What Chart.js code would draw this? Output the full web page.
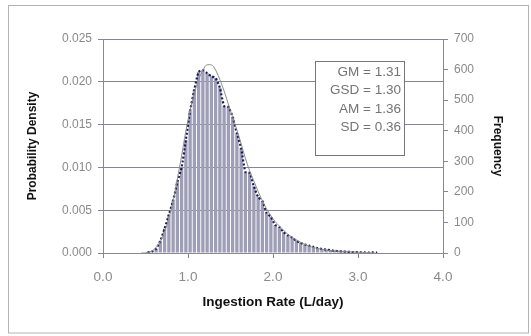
<!DOCTYPE html>
<html>
<head>
<meta charset="utf-8">
<script src="https://cdn.jsdelivr.net/npm/chart.js@4.4.1/dist/chart.umd.min.js"></script>
<style>
  html, body { margin: 0; padding: 0; background: #fff; }
  #wrap { width: 531px; height: 336px; position: relative; }
</style>
</head>
<body>
<div id="wrap"><canvas id="hist"></canvas></div>
<script>
// ─── DATA ─────────────────────────────────────────────────────────────────────
// histogram bins (centre, L/day) and counts per bin
const binCenters = [0.525,0.575,0.625,0.675,0.725,0.775,0.825,0.875,0.925,0.975,
  1.025,1.075,1.125,1.175,1.225,1.275,1.325,1.375,1.425,1.475,
  1.525,1.575,1.625,1.675,1.725,1.775,1.825,1.875,1.925,1.975,
  2.025,2.075,2.125,2.175,2.225,2.275,2.325,2.375,2.425,2.475,
  2.525,2.575,2.625,2.675,2.725,2.775,2.825,2.875,2.925,2.975,
  3.025,3.075,3.125,3.175,3.225];
const frequency = [2,5,14,40,80,125,172,232,280,370,
  465,535,592,598,588,578,572,540,481,478,
  445,392,343,265,262,218,183,170,131,118,
  92,85,68,58,50,40,33,28,24,20,
  16,13,11,9,7,6,5,4,3,3,
  2,2,1,2,1];
// fitted lognormal density, read at intervals
const fitX = [0.45,0.5,0.6,0.7,0.8,0.9,1.0,1.1,1.2,1.25,1.3,1.4,1.5,1.6,1.7,1.8,1.9,2.0,2.1,2.2,2.4,2.6,2.8,3.0,3.2];
const fitDensity = [0,0.00001,0.0004,0.0019,0.0050,0.0100,0.0155,0.0195,0.0218,0.0220,0.0218,0.0196,0.0166,0.0136,0.0103,0.0078,0.0056,0.0040,0.0029,0.0020,0.0009,0.0004,0.0002,0.0001,0];
const statsLines = ['GM = 1.31','GSD = 1.30','AM = 1.36','SD = 0.36'];

const FONT = 'Arial, "Liberation Sans", sans-serif';
const TICK_GRAY = '#8a8a8a';
const GRID = '#85859a';

// outer frame + the stats text box
const decor = {
  id: 'decor',
  beforeDraw(c) {
    const ctx = c.ctx;
    ctx.save();
    ctx.strokeStyle = '#b4b4b4'; ctx.lineWidth = 1;
    ctx.strokeRect(8.5, 5.5, 520, 327.5);
    ctx.restore();
  },
  afterDraw(c) {
    const ctx = c.ctx;
    ctx.save();
    ctx.fillStyle = '#fff';
    ctx.fillRect(315.5, 61.5, 89, 94);
    ctx.strokeStyle = '#777'; ctx.lineWidth = 1;
    ctx.strokeRect(315.5, 61.5, 89, 94);
    ctx.fillStyle = '#747474';
    ctx.font = '13.5px ' + FONT;
    ctx.textAlign = 'right'; ctx.textBaseline = 'middle';
    statsLines.forEach((t, i) => ctx.fillText(t, 401, 72 + i * 18.5));
    ctx.restore();
  }
};

new Chart(document.getElementById('hist'), {
  data: {
    datasets: [
      { type:'line', label:'fit', data: fitX.map((x,i)=>({x, y: fitDensity[i]})), yAxisID:'yL',
        borderColor:'#8c8c8c', borderWidth:1, pointRadius:0, tension:0.4, order:0 },
      { type:'line', label:'hist', data: binCenters.map((x,i)=>({x, y: frequency[i]})), yAxisID:'yR',
        borderColor:'#1c1c5c', borderWidth:2.2, borderDash:[2,2], pointRadius:0, tension:0.2, order:1 },
      { type:'bar', label:'Frequency', data: binCenters.map((x,i)=>({x, y: frequency[i]})), yAxisID:'yR',
        backgroundColor:'#9e9eb6', borderWidth:0, barPercentage:0.78, categoryPercentage:1, order:2 }
    ]
  },
  options: {
    responsive:true, maintainAspectRatio:false, animation:false,
    layout:{ padding:{ top:39, left:0, right:0, bottom:0 } },
    plugins:{ legend:{display:false}, tooltip:{enabled:false} },
    scales:{
      x:{ type:'linear', min:0, max:4, position:'bottom', offset:false,
        ticks:{ stepSize:1, callback:v=>v.toFixed(1), color:TICK_GRAY, font:{family:FONT,size:13.5}, padding:11, maxRotation:0 },
        grid:{ drawOnChartArea:false, offset:false, color:GRID, tickLength:5 },
        border:{ color:'#8a8a8a' },
        title:{ display:true, text:'Ingestion Rate (L/day)', color:'#111', font:{family:FONT,size:13.5,weight:'bold'}, padding:{top:0,bottom:26} },
        afterFit:s=>{ s.height = 83; } },
      yL:{ type:'linear', position:'left', min:0, max:0.025,
        ticks:{ stepSize:0.005, callback:v=>v.toFixed(3), color:TICK_GRAY, font:{family:FONT,size:12}, padding:6 },
        grid:{ color:GRID, tickLength:5 },
        border:{ color:'#8a8a8a' },
        title:{ display:true, text:'Probability Density', color:'#111', font:{family:FONT,size:12,weight:'bold'}, padding:{top:25,bottom:0} },
        afterFit:s=>{ s.width = 103; } },
      yR:{ type:'linear', position:'right', min:0, max:700,
        ticks:{ stepSize:100, color:TICK_GRAY, font:{family:FONT,size:12}, padding:6 },
        grid:{ drawOnChartArea:false, color:GRID, tickLength:5 },
        border:{ color:'#8a8a8a' },
        title:{ display:true, text:'Frequency', color:'#111', font:{family:FONT,size:12,weight:'bold'}, padding:{top:26,bottom:0} },
        afterFit:s=>{ s.width = 88; } }
    }
  },
  plugins:[decor]
});
</script>
</body>
</html>
